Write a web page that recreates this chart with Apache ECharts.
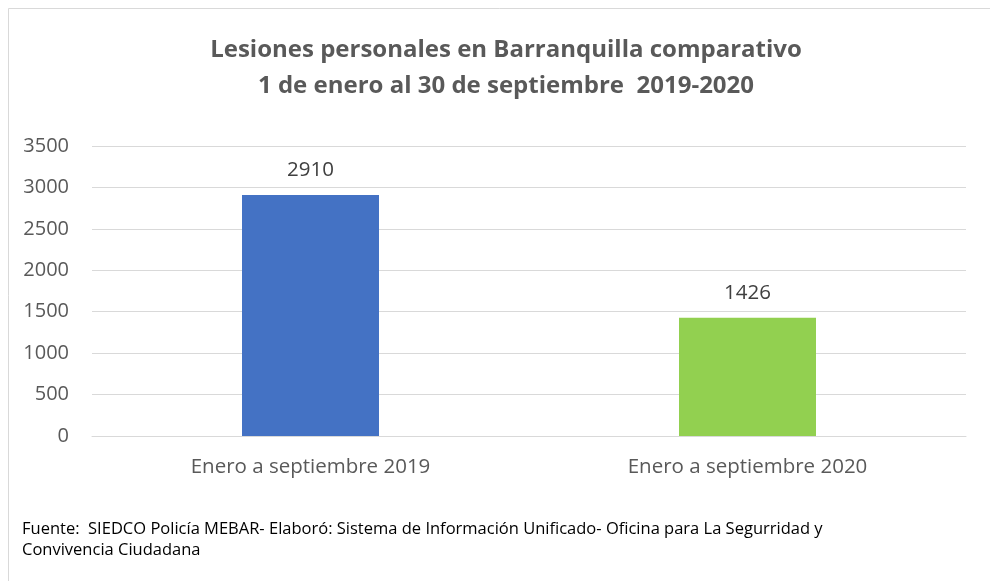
<!DOCTYPE html>
<html>
<head>
<meta charset="utf-8">
<script src="https://cdn.jsdelivr.net/npm/echarts@6/dist/echarts.min.js"></script>
<style>
  html, body { margin: 0; padding: 0; background: #fff; }
  #chart { width: 990px; height: 581px; }
</style>
</head>
<body>
<div id="chart"></div>
<script>
var categories = ['Enero a septiembre 2019', 'Enero a septiembre 2020'];
var values = [2910, 1426];
var barColors = ['#4472c4', '#92d050'];
var titleText = 'Lesiones personales en Barranquilla comparativo\n1 de enero al 30 de septiembre  2019-2020';
var footerText = 'Fuente:  SIEDCO Policía MEBAR- Elaboró: Sistema de Información Unificado- Oficina para La Segurridad y\nConvivencia Ciudadana';

var font = '"Open Sans", sans-serif';
var myChart = echarts.init(document.getElementById('chart'));
var option = {
    backgroundColor: '#fff',
    animation: false,
    graphic: [
        {
            type: 'rect',
            shape: { x: 8.5, y: 8.5, width: 1000, height: 600 },
            style: { fill: 'none', stroke: '#d9d9d9', lineWidth: 1 },
            silent: true
        },
        {
            // titulo centrado sobre el area del grafico
            type: 'text',
            x: 506,
            y: 32,
            style: {
                text: titleText,
                textAlign: 'center',
                fontFamily: font,
                fontWeight: 'bold',
                fontSize: 24,
                lineHeight: 36,
                fill: '#595959'
            }
        },
        {
            type: 'text',
            left: 22,
            top: 519,
            style: {
                text: footerText,
                fontFamily: font,
                fontSize: 16.5,
                lineHeight: 21,
                fill: '#000'
            }
        }
    ],
    grid: {
        left: 92,
        right: 24,
        top: 146,
        bottom: 145
    },
    xAxis: {
        type: 'category',
        data: categories,
        axisTick: { show: false },
        axisLine: { lineStyle: { color: '#d9d9d9', width: 1 } },
        axisLabel: {
            margin: 21,
            fontFamily: font,
            fontSize: 20.5,
            color: '#595959'
        }
    },
    yAxis: {
        type: 'value',
        min: 0,
        max: 3500,
        interval: 500,
        axisLine: { show: false },
        axisTick: { show: false },
        splitLine: { lineStyle: { color: '#d9d9d9', width: 1 } },
        axisLabel: {
            margin: 23,
            fontFamily: font,
            fontSize: 20,
            color: '#595959',
            formatter: function (v) { return String(v); }
        }
    },
    series: [
        {
            type: 'bar',
            barWidth: 137,
            data: values.map(function (v, i) {
                return { value: v, itemStyle: { color: barColors[i] } };
            }),
            label: {
                show: true,
                position: 'top',
                distance: 14,
                fontFamily: font,
                fontSize: 20.5,
                color: '#404040'
            }
        }
    ]
};
myChart.setOption(option);
</script>
</body>
</html>
